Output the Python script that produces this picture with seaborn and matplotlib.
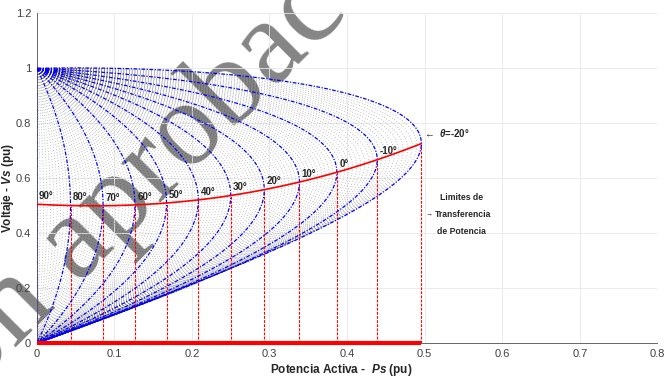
import numpy as np
import pandas as pd
import matplotlib
matplotlib.use("Agg")
import matplotlib.pyplot as plt
import seaborn as sns

# System data (per unit): source voltage and series line impedance Z = |Z| at angle beta
source_voltage = 1.0
line_impedance = 1.0
line_angle_deg = 73.0

# Load power-factor angles drawn as PV curves (degrees)
angles_deg = [90, 80, 70, 60, 50, 40, 30, 20, 10, 0, -10, -20]
angle_labels = ["90°", "80°", "70°", "60°", "50°", "40°", "30°", "20°", "10°", "0°", "-10°"]

# Axis ticks
x_ticks = [0, 0.1, 0.2, 0.3, 0.4, 0.5, 0.6, 0.7, 0.8]
x_tick_labels = ["0", "0.1", "0.2", "0.3", "0.4", "0.5", "0.6", "0.7", "0.8"]
y_ticks = [0, 0.2, 0.4, 0.6, 0.8, 1.0, 1.2]
y_tick_labels = ["0", "0.2", "0.4", "0.6", "0.8", "1", "1.2"]

beta = np.deg2rad(line_angle_deg)


def pv_curve(theta_deg):
    """Receiving-end voltage and active power as the load impedance sweeps from open to short."""
    th = np.deg2rad(theta_deg)
    z = np.logspace(3, -3, 3000)
    zl = z * np.exp(1j * th)
    v = source_voltage * np.abs(zl / (zl + line_impedance * np.exp(1j * beta)))
    p = v ** 2 * np.cos(th) / z
    return p, v


def nose_point(theta_deg):
    th = np.deg2rad(theta_deg)
    k = 2 * line_impedance * (1 + np.cos(beta - th))
    p = source_voltage ** 2 * np.cos(th) / k
    v = source_voltage / np.sqrt(2 * (1 + np.cos(beta - th)))
    return p, v


def curves_frame(angles):
    rows = []
    for a in angles:
        p, v = pv_curve(a)
        rows.append(pd.DataFrame({"P": p, "V": v, "theta": a}))
    return pd.concat(rows, ignore_index=True)


main_df = curves_frame(angles_deg)
fine_angles = [a for a in range(90, -21, -1) if a % 10 != 0]
fine_df = curves_frame(fine_angles)

limit_theta = np.linspace(90, -20, 400)
limit_p, limit_v = nose_point(limit_theta)
limit_df = pd.DataFrame({"P": limit_p, "V": limit_v})

sns.set_theme(style="whitegrid")
plt.rcParams["font.family"] = ["Liberation Sans", "DejaVu Sans"]
plt.rcParams["mathtext.fontset"] = "custom"
plt.rcParams["mathtext.it"] = "Liberation Sans:italic:bold"
plt.rcParams["mathtext.rm"] = "Liberation Sans:bold"
plt.rcParams["mathtext.bf"] = "Liberation Sans:bold"

fig = plt.figure(figsize=(6.64, 3.77), dpi=100, facecolor="white")
ax = fig.add_axes([0.0553, 0.0894, 0.9347, 0.8753])
ax.patch.set_alpha(0.0)

# Intermediate angles as a faint dotted family
sns.lineplot(data=fine_df, x="P", y="V", units="theta", estimator=None, sort=False,
             color="black", linestyle=(0, (1, 3)), linewidth=0.5, alpha=0.45, ax=ax,
             legend=False, zorder=1)

# Main PV curves
sns.lineplot(data=main_df, x="P", y="V", units="theta", estimator=None, sort=False,
             color="#0000ff", linestyle=(0, (3, 1.2, 1, 1.2)), linewidth=0.9, ax=ax,
             legend=False, zorder=3)

# Drop lines from each maximum-power point
for a in angles_deg:
    p, v = nose_point(a)
    ax.plot([p, p], [0, v], color="red", linestyle=(0, (2.5, 1.2)), linewidth=0.8, zorder=2)

# Locus of maximum power transfer
sns.lineplot(data=limit_df, x="P", y="V", estimator=None, sort=False, color="red",
             linewidth=1.2, ax=ax, legend=False, zorder=4)

# Power range on the P axis
p_max_all = nose_point(angles_deg[-1])[0]
ax.plot([0, p_max_all], [0, 0], color="red", linewidth=3, solid_capstyle="butt",
        zorder=5, clip_on=False)

# Angle labels next to each maximum
for a, lab in zip(angles_deg[:-1], angle_labels):
    p, v = nose_point(a)
    ax.text(p + 0.003, v + 0.03, lab, fontsize=7, fontweight="bold", ha="left",
            va="center", zorder=6)

p_end, v_end = nose_point(angles_deg[-1])
ax.text(p_end + 0.003, v_end + 0.037, "←  $\\theta$=-20°", fontsize=7, fontweight="bold",
        ha="left", va="center", zorder=6)

ax.text(0.547, 0.531, "Limites de", fontsize=6.2, fontweight="bold", ha="center", va="center")
ax.text(0.549, 0.469, "Transferencia", fontsize=6.2, fontweight="bold", ha="center", va="center")
ax.text(0.548, 0.408, "de Potencia", fontsize=6.2, fontweight="bold", ha="center", va="center")
ax.text(0.5015, 0.469, "→", fontsize=5, ha="left", va="center")

ax.set_xlim(0, 0.8)
ax.set_ylim(0, 1.2)
ax.set_xticks(x_ticks)
ax.set_xticklabels(x_tick_labels)
ax.set_yticks(y_ticks)
ax.set_yticklabels(y_tick_labels)
ax.tick_params(direction="in", length=3, width=0.6, colors="#555555", labelsize=8,
               labelcolor="#404040", pad=4)
ax.grid(True, color="#e8e8e8", linewidth=0.6)
for side in ["top", "right"]:
    ax.spines[side].set_visible(False)
for side in ["left", "bottom"]:
    ax.spines[side].set_color("#666666")
    ax.spines[side].set_linewidth(0.7)

ax.set_xlabel("Potencia Activa -  $Ps$ (pu)", fontsize=8.5, fontweight="bold")
ax.set_ylabel("Voltaje - $Vs$ (pu)", fontsize=8.5, fontweight="bold")
ax.xaxis.set_label_coords(0.49, -0.057)
ax.yaxis.set_label_coords(-0.033, 0.47)

# Watermark behind the plot content
fig.text(-0.043, -0.039, "on aprobac", fontsize=87, family="Liberation Serif",
         color="#858585", rotation=45, rotation_mode="anchor",
         ha="left", va="baseline", zorder=-1)

fig.savefig("out.png", dpi=100, facecolor="white")
